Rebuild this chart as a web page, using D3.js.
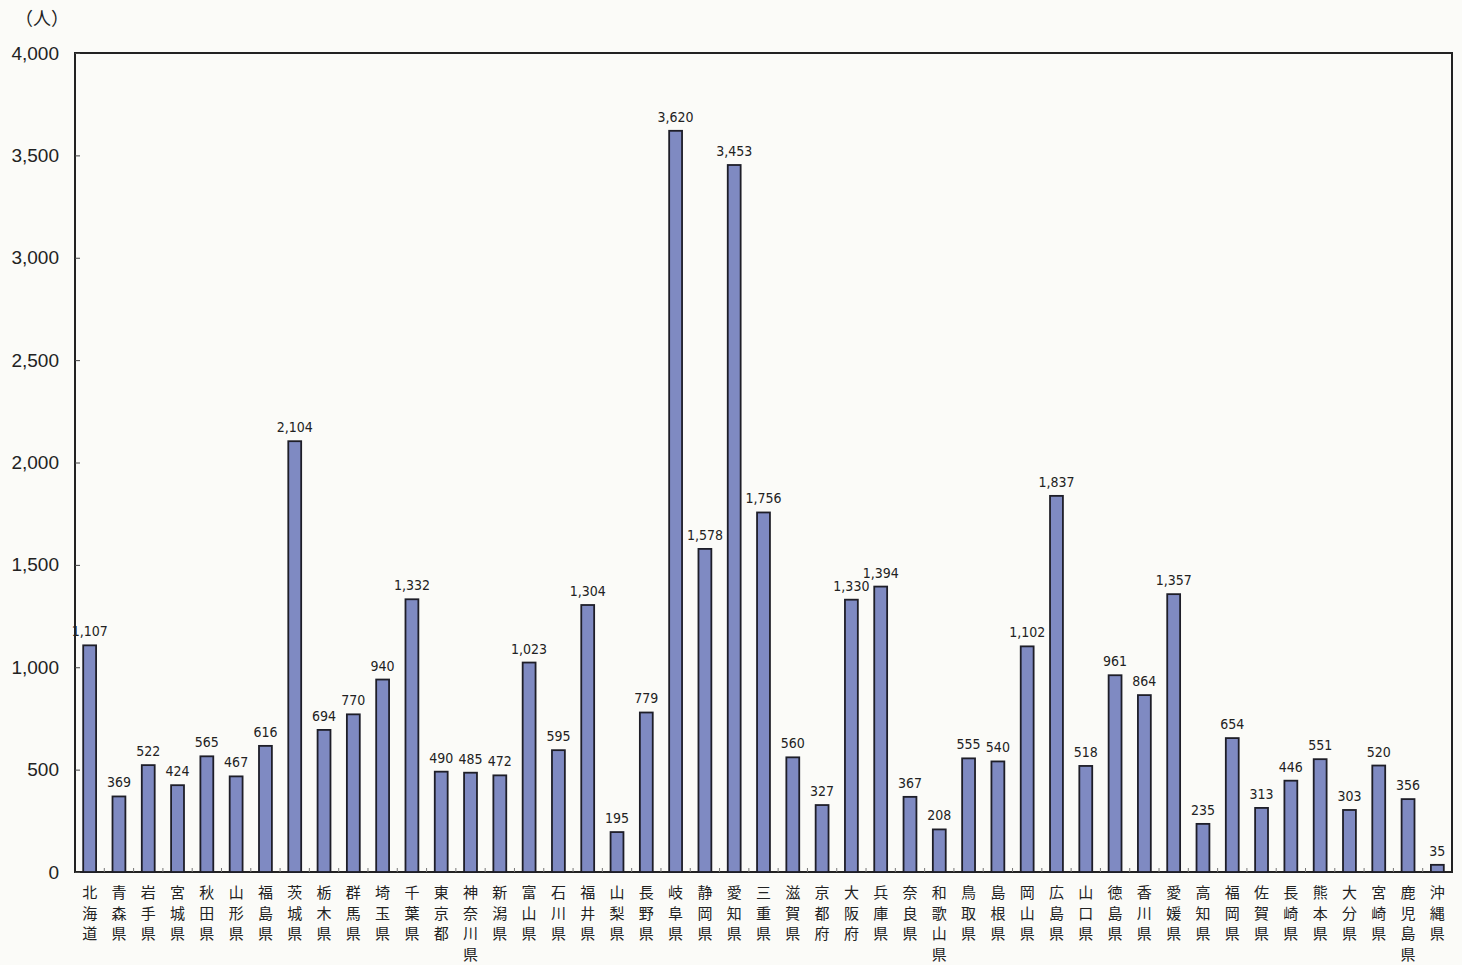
<!DOCTYPE html>
<meta charset="utf-8">
<style>
  body { margin: 0; background: #fbfbf8; }
  .ylab text { font-family: "Liberation Sans", Arial, sans-serif; font-size: 19px; fill: #222; }
  .val { font-family: "Liberation Sans Narrow", "DejaVu Sans Condensed", sans-serif; font-size: 14px; fill: #222; }
  .cat { font-family: "Noto Sans CJK JP", sans-serif; font-size: 15px; fill: #222; }
</style>
<script src="https://d3js.org/d3.v7.min.js"></script>
<div id="chart"></div>
<script>
  var prefectures = ["北海道","青森県","岩手県","宮城県","秋田県","山形県","福島県","茨城県","栃木県","群馬県",
    "埼玉県","千葉県","東京都","神奈川県","新潟県","富山県","石川県","福井県","山梨県","長野県",
    "岐阜県","静岡県","愛知県","三重県","滋賀県","京都府","大阪府","兵庫県","奈良県","和歌山県",
    "鳥取県","島根県","岡山県","広島県","山口県","徳島県","香川県","愛媛県","高知県","福岡県",
    "佐賀県","長崎県","熊本県","大分県","宮崎県","鹿児島県","沖縄県"]
  var counts = [1107,369,522,424,565,467,616,2104,694,770,
    940,1332,490,485,472,1023,595,1304,195,779,
    3620,1578,3453,1756,560,327,1330,1394,367,208,
    555,540,1102,1837,518,961,864,1357,235,654,
    313,446,551,303,520,356,35]
  var yTicks = [0,500,1000,1500,2000,2500,3000,3500,4000]

  var W = 1462, H = 965
  var plotLeft = 75, plotRight = 1452, plotTop = 53, plotBottom = 872

  var svg = d3.select("#chart").append("svg")
    .attr("width", W).attr("height", H)

  var x = d3.scaleBand().domain(prefectures).range([plotLeft, plotRight]).paddingInner(0.56).paddingOuter(0.28)
  var y = d3.scaleLinear().domain([0, 4000]).range([plotBottom, plotTop])

  // frame
  svg.append("rect")
    .attr("x", plotLeft).attr("y", plotTop)
    .attr("width", plotRight - plotLeft).attr("height", plotBottom - plotTop)
    .attr("fill", "none").attr("stroke", "#222").attr("stroke-width", 2)

  // y axis
  var yAxis = svg.append("g").attr("class", "ylab")
    .attr("transform", "translate(" + plotLeft + ",0)")
    .call(d3.axisLeft(y).tickValues(yTicks).tickSize(-5).tickPadding(16)
      .tickFormat(d3.format(",")))
  yAxis.select(".domain").remove()
  yAxis.selectAll("line").attr("stroke", "#444")

  // x tick marks at band boundaries
  var step = x.step()
  svg.append("g").selectAll("line")
    .data(prefectures.slice(1))
    .enter().append("line")
      .attr("x1", function(d) { return x(d) - x.paddingInner() * step / 2 })
      .attr("x2", function(d) { return x(d) - x.paddingInner() * step / 2 })
      .attr("y1", plotBottom).attr("y2", plotBottom - 4)
      .attr("stroke", "#777").attr("stroke-width", 1)

  // bars
  svg.append("g").selectAll("rect")
    .data(counts)
    .enter().append("rect")
      .attr("x", function(d, i) { return x(prefectures[i]) })
      .attr("y", function(d) { return y(d) })
      .attr("width", x.bandwidth())
      .attr("height", function(d) { return plotBottom - y(d) })
      .attr("fill", "#7f8ac2")
      .attr("stroke", "#1e1e28").attr("stroke-width", 1.8)

  // value labels
  svg.append("g").selectAll("text")
    .data(counts)
    .enter().append("text")
      .attr("class", "val")
      .attr("x", function(d, i) { return x(prefectures[i]) + x.bandwidth() / 2 })
      .attr("y", function(d) { return y(d) - 9 })
      .attr("text-anchor", "middle")
      .text(function(d) { return d3.format(",")(d) })

  // category labels (vertical, one char per line)
  var cat = svg.append("g").selectAll("text")
    .data(prefectures)
    .enter().append("text")
      .attr("class", "cat")
      .attr("text-anchor", "middle")
  cat.selectAll("tspan")
    .data(function(d) { return d.split("").map(function(c) { return {c: c, p: d} }) })
    .enter().append("tspan")
      .attr("x", function(d) { return x(d.p) + x.bandwidth() / 2 })
      .attr("y", function(d, i) { return 898 + i * 20.7 })
      .text(function(d) { return d.c })

  // unit
  svg.append("text")
    .attr("x", 42).attr("y", 25)
    .attr("text-anchor", "middle")
    .style("font-family", "Noto Sans CJK JP, sans-serif")
    .style("font-size", "18px").style("fill", "#222")
    .text("（人）")
</script>
